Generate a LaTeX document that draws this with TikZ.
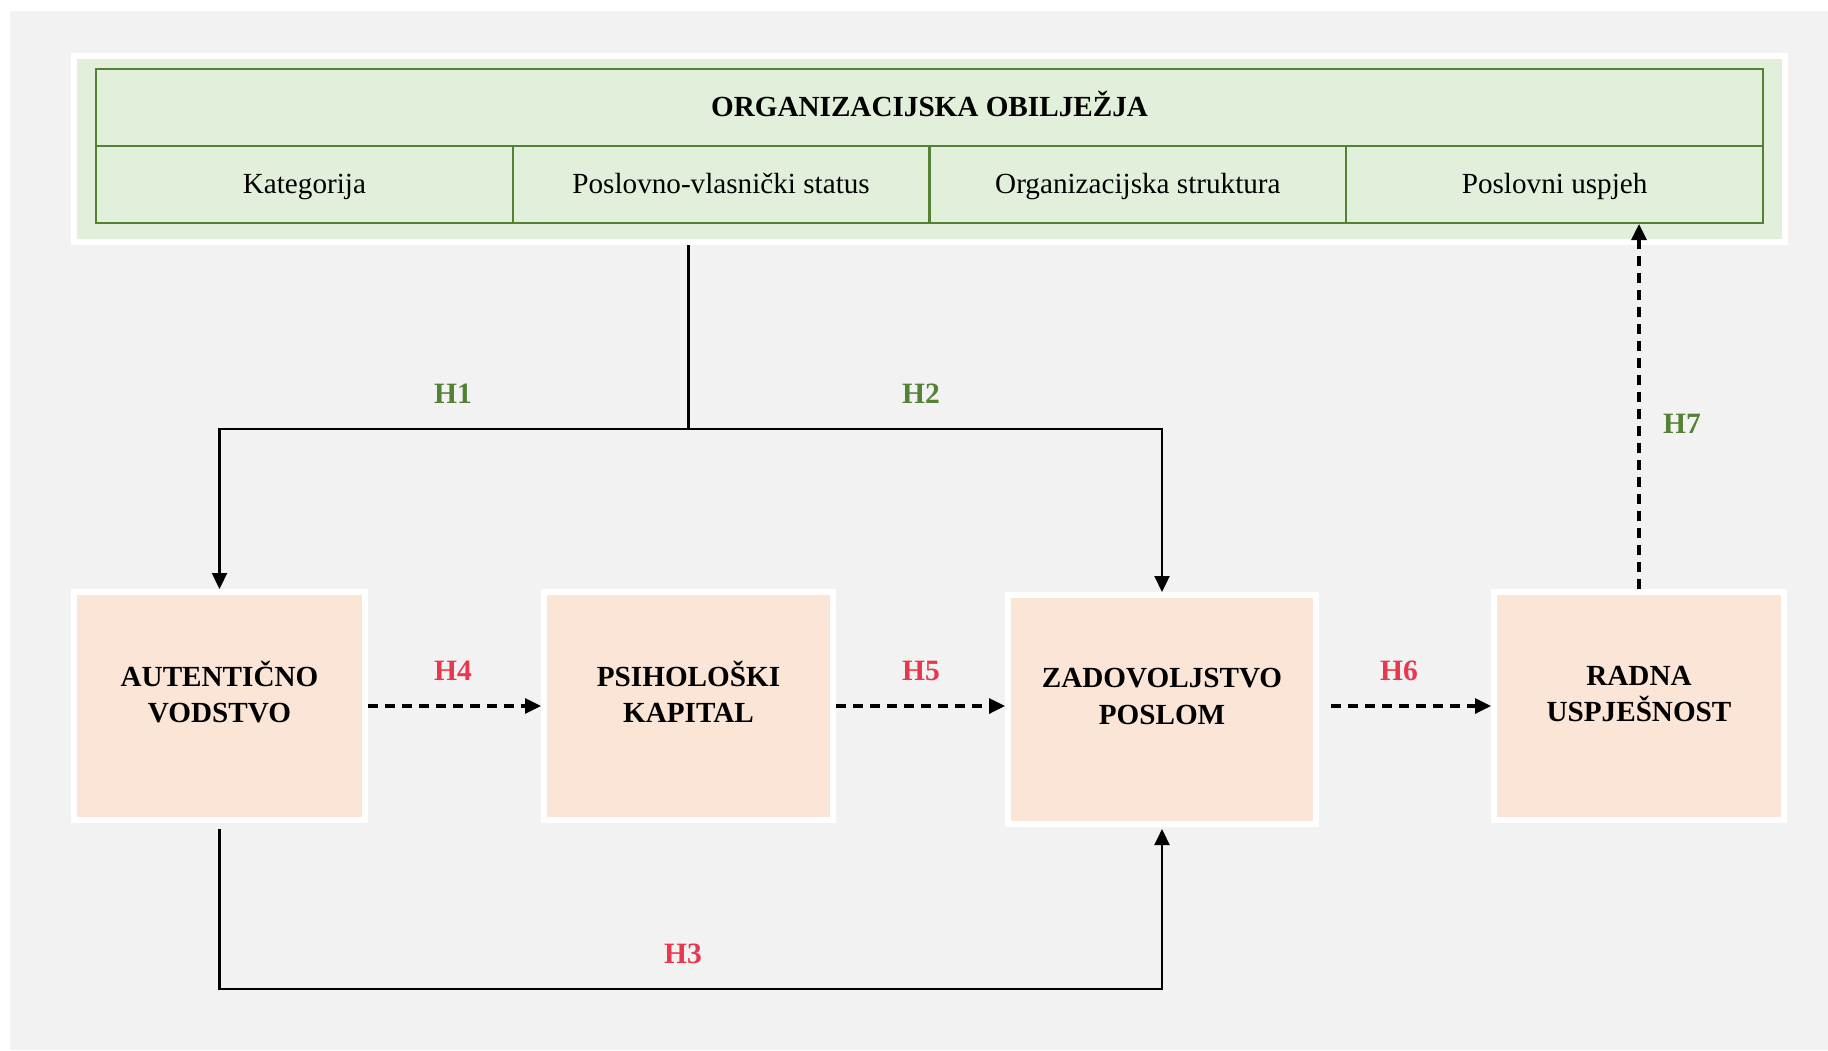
\documentclass[tikz,border=0pt]{standalone}
\usepackage{fontspec}
\setmainfont{Liberation Serif}
\usetikzlibrary{arrows.meta}

\definecolor{bgGray}{HTML}{F2F2F2}
\definecolor{orgFill}{HTML}{E2EFDA}
\definecolor{orgLine}{HTML}{548235}
\definecolor{factorFill}{HTML}{FBE5D6}
\definecolor{hRed}{HTML}{E8384F}

\begin{document}
\begin{tikzpicture}[
    every node/.style={font=\fontsize{8.3}{10.2}\selectfont},
    panel/.style={draw=white, line width=0.06cm, fill=orgFill, minimum width=17.11cm, minimum height=1.86cm},
    cell/.style={draw=orgLine, line width=0.02cm, minimum width=4.1675cm, minimum height=0.77cm, inner sep=0pt, text height=0.22cm, text depth=0.05cm},
    factor/.style={draw=white, line width=0.06cm, fill=factorFill, minimum width=2.91cm, minimum height=2.28cm},
    factortext/.style={align=center, font=\fontsize{8.3}{10.4}\selectfont\bfseries},
    conn/.style={line width=0.022cm, draw=black},
    dashconn/.style={line width=0.032cm, draw=black, dash pattern=on 0.1cm off 0.07cm},
    tip/.style={-{Triangle[length=0.16cm,width=0.15cm]}},
    hgreen/.style={text=orgLine, font=\fontsize{8.4}{10}\selectfont\bfseries},
    hred/.style={text=hRed, font=\fontsize{8.4}{10}\selectfont\bfseries}
]
    % background
    \useasboundingbox (0,0) rectangle (18.28,-10.5);
    \fill[white] (0,0) rectangle (18.28,-10.5);
    \fill[bgGray] (0.1,-0.11) rectangle (18.28,-10.5);

    % organizational features
    \node[panel] (orgPanel) at (9.295,-1.49) {};
    \node[cell, minimum width=16.67cm, font=\fontsize{8.3}{10.2}\selectfont\bfseries] (orgTitle) at (9.295,-1.075) {ORGANIZACIJSKA OBILJEŽJA};
    \node[cell] (kat) at (3.044,-1.845) {Kategorija};
    \node[cell] (status) at (7.211,-1.845) {Poslovno-vlasnički status};
    \node[cell] (struktura) at (11.379,-1.845) {Organizacijska struktura};
    \node[cell] (uspjeh) at (15.546,-1.845) {Poslovni uspjeh};

    % factors
    \node[factor] (av) at (2.195,-7.06) {};
    \node[factor, minimum width=2.89cm] (pk) at (6.885,-7.06) {};
    \node[factor, minimum width=3.08cm, minimum height=2.29cm] (zp) at (11.62,-7.095) {};
    \node[factor, minimum width=2.90cm] (ru) at (16.39,-7.06) {};

    \node[factortext] (avTxt) at ([yshift=0.14cm]av.center) {AUTENTIČNO\\VODSTVO};
    \node[factortext] (pkTxt) at ([yshift=0.14cm]pk.center) {PSIHOLOŠKI\\KAPITAL};
    \node[factortext] (zpTxt) at ([yshift=0.13cm]zp.center) {ZADOVOLJSTVO\\POSLOM};
    \node[factortext] (ruTxt) at ([yshift=0.12cm]ru.center) {RADNA\\USPJEŠNOST};

    % features - factors
    \coordinate (split) at (6.885,-4.29);
    \draw[conn] (orgPanel.south -| pk.north) -- (split);
    \draw[conn,tip] (split) -| (av.north);
    \draw[conn,tip] (split) -| (zp.north);
    \draw[conn,tip] ([yshift=-0.06cm]av.south) -- ++(0,-1.6) -| ([yshift=-0.02cm]zp.south);

    %factor chain
    \draw[dashconn,tip] (av.east) -- (pk.west);
    \draw[dashconn,tip] (pk.east) -- (pk.east -| zp.west);
    \draw[dashconn,tip] ([xshift=0.12cm]zp.east |- ru.west) -- (ru.west);
    \draw[dashconn,tip] (ru.north) -- (ru.north |- uspjeh.south);

    % hypotheses
    \node[hgreen] (h1) at (4.53,-3.94) {H1};
    \node[hgreen] (h2) at (9.21,-3.94) {H2};
    \node[hred] (h3) at (6.83,-9.54) {H3};
    \node[hred] (h4) at (4.53,-6.71) {H4};
    \node[hred] (h5) at (9.21,-6.71) {H5};
    \node[hred] (h6) at (13.99,-6.71) {H6};
    \node[hgreen] (h7) at (16.82,-4.24) {H7};
\end{tikzpicture}
\end{document}
